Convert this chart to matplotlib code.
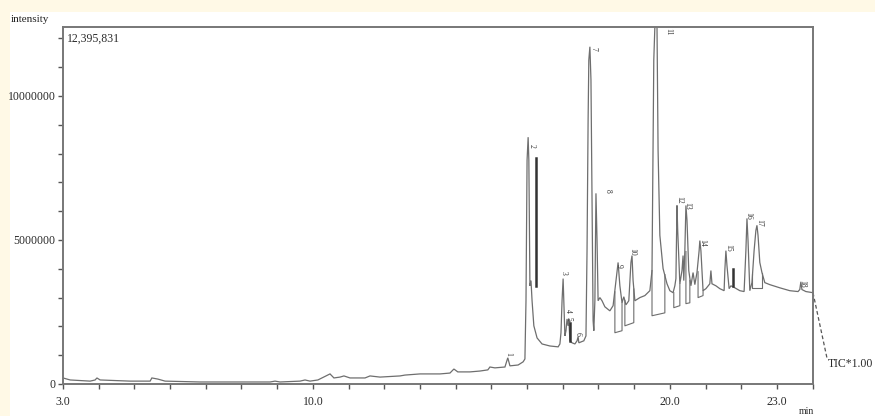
import matplotlib
matplotlib.use("Agg")
import matplotlib.pyplot as plt
from matplotlib.patches import Rectangle
import numpy as np

# ---- data (retention time in min, intensity in millions) ----
trace_t = [3.00, 3.20, 3.76, 3.90, 3.95, 4.04, 4.88, 5.44, 5.49, 5.66, 5.86, 6.84, 7.96, 8.80, 8.94,
           9.08, 9.64, 9.78, 9.92, 10.14, 10.48, 10.59, 10.76, 10.87, 11.04, 11.46, 11.60, 11.88,
           12.44, 12.58, 13.00, 13.56, 13.84, 13.95, 14.06, 14.40, 14.68, 14.90, 14.96, 15.10,
           15.38, 15.46, 15.52, 15.75, 15.89, 15.94, 15.97, 16.00, 16.03, 16.05, 16.08, 16.11,
           16.14, 16.19, 16.28, 16.42, 16.64, 16.87, 16.92, 16.95, 16.98, 17.01, 17.03, 17.06,
           17.09, 17.12, 17.15, 17.17, 17.20, 17.26, 17.34, 17.40, 17.43, 17.45, 17.59, 17.65,
           17.68, 17.71, 17.73, 17.76, 17.79, 17.82, 17.85, 17.87, 17.90, 17.93, 17.96, 17.99,
           18.04, 18.10, 18.18, 18.32, 18.41, 18.49, 18.55, 18.60, 18.66, 18.71, 18.77, 18.85,
           18.91, 18.94, 18.97, 19.02, 19.16, 19.30, 19.44, 19.50, 19.53, 19.55, 19.58, 19.61,
           19.64, 19.67, 19.72, 19.81, 19.92, 20.00, 20.09, 20.14, 20.17, 20.20, 20.22, 20.28,
           20.34, 20.37, 20.39, 20.42, 20.45, 20.48, 20.53, 20.59, 20.65, 20.70, 20.76, 20.82,
           20.84, 20.87, 20.93, 21.01, 21.12, 21.15, 21.18, 21.29, 21.40, 21.52, 21.54, 21.57,
           21.60, 21.66, 21.71, 21.82, 21.96, 22.08, 22.13, 22.16, 22.19, 22.24, 22.30, 22.36,
           22.41, 22.44, 22.47, 22.52, 22.58, 22.66, 22.80, 23.08, 23.36, 23.59, 23.64, 23.67,
           23.70, 23.81, 24.01]
trace_i = [0.21, 0.14, 0.10, 0.14, 0.21, 0.14, 0.10, 0.10, 0.21, 0.17, 0.10, 0.07, 0.07, 0.07, 0.10,
           0.07, 0.10, 0.14, 0.10, 0.14, 0.35, 0.21, 0.24, 0.28, 0.21, 0.21, 0.28, 0.24,
           0.28, 0.31, 0.35, 0.35, 0.38, 0.52, 0.42, 0.42, 0.45, 0.49, 0.59, 0.56,
           0.59, 0.91, 0.63, 0.66, 0.77, 0.87, 2.89, 7.77, 8.57, 7.77, 3.41, 3.59,
           2.89, 2.02, 1.60, 1.39, 1.32, 1.29, 1.39, 1.78, 2.89, 3.66, 2.89, 1.67,
           1.85, 2.26, 2.02, 2.26, 1.50, 1.43, 1.39, 1.50, 1.64, 1.43, 1.50, 1.67,
           4.63, 9.16, 11.25, 11.71, 10.56, 6.38, 2.20, 1.85, 2.89, 6.62, 4.98, 2.89,
           3.00, 2.89, 2.68, 2.54, 2.72, 3.59, 4.22, 3.41, 2.82, 3.03, 2.75, 2.89,
           4.22, 4.46, 3.59, 2.89, 3.00, 3.07, 3.24, 3.94, 8.12, 11.25, 12.40, 13.20,
           12.40, 8.12, 5.16, 4.01, 3.48, 3.24, 3.17, 3.41, 3.66, 6.20, 5.33, 3.48,
           3.94, 4.46, 3.59, 4.63, 6.20, 5.68, 3.94, 3.41, 3.87, 3.45, 3.87, 4.63,
           4.98, 4.63, 3.24, 3.31, 3.48, 3.94, 3.48, 3.41, 3.31, 3.24, 3.94, 4.63,
           4.11, 3.31, 3.41, 3.34, 3.24, 3.21, 4.63, 5.75, 4.98, 3.24, 3.52, 4.63,
           5.33, 5.51, 5.16, 4.22, 3.87, 3.52, 3.45, 3.34, 3.24, 3.21, 3.28, 3.55,
           3.28, 3.21, 3.17]

# integration baselines under peaks (time list, intensity list)
base_segments = [
    ([18.46, 18.46, 18.66, 18.66], [3.20, 1.78, 1.85, 2.82]),
    ([18.74, 18.74, 18.99, 18.99], [2.90, 2.02, 2.13, 3.30]),
    ([19.50, 19.50, 19.86, 19.86], [3.94, 2.37, 2.47, 3.80]),
    ([20.11, 20.11, 20.28, 20.28], [3.17, 2.65, 2.72, 3.48]),
    ([20.45, 20.45, 20.56, 20.56], [4.60, 2.79, 2.82, 3.60]),
    ([20.79, 20.79, 20.93, 20.93], [3.90, 3.00, 3.07, 3.24]),
    ([22.30, 22.30, 22.58, 22.58], [3.83, 3.34, 3.34, 3.87]),
]
# dark narrow marks
dark_t = [16.25, 17.20, 21.77]
dark_lo = [3.41, 1.50, 3.41]
dark_hi = [7.84, 2.13, 4.01]

# peak labels (label centre positions)
peak_labels = [str(n) for n in range(1, 19)]
label_t = [15.46, 16.14, 17.01, 17.15, 17.17, 17.43, 17.85, 18.27, 18.57, 18.94,
           19.95, 20.25, 20.48, 20.90, 21.63, 22.19, 22.50, 23.70]
label_i = [1.05, 8.25, 3.84, 2.55, 2.26, 1.74, 11.65, 6.72, 4.11, 4.60,
           12.23, 6.38, 6.20, 4.91, 4.74, 5.85, 5.61, 3.48]

max_intensity = 12395831
x_labels = {3: "3.0", 10: "10.0", 20: "20.0", 23: "23.0"}
y_labels = {0: "0", 5: "5000000", 10: "10000000"}

# ---- figure ----
W, H = 875, 416
fig = plt.figure(figsize=(W / 100, H / 100), dpi=100)
fig.patch.set_facecolor("#FFF9E6")
bg = fig.add_axes([10 / W, 0, 865 / W, (H - 12) / H], zorder=-5)
bg.set_facecolor("white")
bg.set_axis_off()
bg.add_patch(Rectangle((0, 0), 1, 1, transform=bg.transAxes, facecolor="white",
                       edgecolor="none"))

ax = fig.add_axes([63 / W, 1 - 384 / H, (813 - 63) / W, (384 - 27) / H], zorder=1)
ax.set_facecolor("white")
serif = "Liberation Serif"
txtc = "#2a2a2a"
linec = "#6e6e6e"

ax.plot(trace_t, [v * 1e6 for v in trace_i], color=linec, lw=0.9, solid_joinstyle="miter")
for ts, vs in base_segments:
    ax.plot(ts, [v * 1e6 for v in vs], color=linec, lw=0.8)
for t, lo, hi in zip(dark_t, dark_lo, dark_hi):
    ax.plot([t, t], [lo * 1e6, hi * 1e6], color="#333333", lw=1.8)

for lab, t, v in zip(peak_labels, label_t, label_i):
    ax.text(t, v * 1e6, lab, rotation=270, ha="center", va="center", fontsize=5.5,
            family=serif, color="#333333")

ax.set_xlim(3, 24.01)
ax.set_ylim(0, max_intensity)

xt = list(range(3, 25))
ax.set_xticks(xt)
ax.set_xticklabels([x_labels.get(v, "") for v in xt], family=serif, fontsize=8.5, color=txtc)
yt = list(range(0, 13))
ax.set_yticks([v * 1e6 for v in yt])
ax.set_yticklabels([y_labels.get(v, "") for v in yt], family=serif, fontsize=8.5, color=txtc)
ax.tick_params(axis="both", direction="out", length=3.5, width=1.0, color="#555555", pad=2)
ax.tick_params(axis="x", pad=5)
for s in ax.spines.values():
    s.set_color("#777777")
    s.set_linewidth(1.4)

ax.text(0.005, 0.985, "12,395,831", transform=ax.transAxes, ha="left", va="top",
        family=serif, fontsize=8.5, color=txtc)
fig.text(11 / W, 1 - 19 / H, "intensity", ha="left", va="center", family=serif,
         fontsize=8, color="#222222")
fig.text(806 / W, 1 - 411 / H, "min", ha="center", va="center", family=serif,
         fontsize=7, color=txtc)

# TIC leader line
ax.plot([24.01, 24.40], [3.17e6, 0.91e6], color="#555555", lw=0.9, ls=(0, (3, 2)), clip_on=False)
ax.text(24.43, 0.70e6, "TIC*1.00", ha="left", va="center", family=serif, fontsize=8.5,
        color=txtc, clip_on=False)

fig.savefig("out.png", dpi=100, facecolor=fig.get_facecolor())
